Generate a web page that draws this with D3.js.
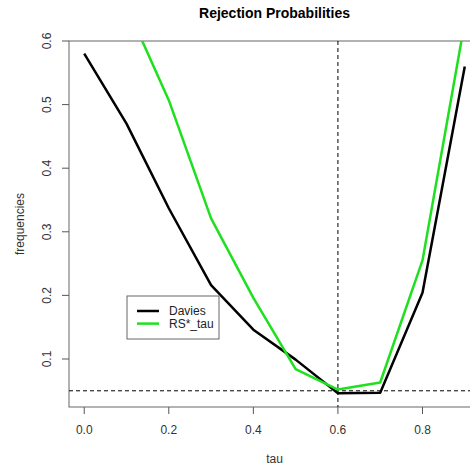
<!DOCTYPE html>
<html>
<head>
<meta charset="utf-8">
<script src="https://cdn.jsdelivr.net/npm/d3@7.9.0/dist/d3.min.js"></script>
<style>
  body { margin: 0; background: #fff; }
  svg { display: block; font-family: "Liberation Sans", Arial, sans-serif; }
</style>
</head>
<body>
<div id="chart"></div>
<script>
// values
const tau = [0.0, 0.1, 0.2, 0.3, 0.4, 0.5, 0.6, 0.7, 0.8, 0.9];
const davies = [0.580, 0.470, 0.337, 0.216, 0.146, 0.099, 0.046, 0.047, 0.204, 0.560];
const rsTau = [0.655, 0.655, 0.507, 0.321, 0.196, 0.084, 0.052, 0.063, 0.255, 0.630];
const rsStart = 0.1; // RS*_tau first point is above the window
const xTicks = [0.0, 0.2, 0.4, 0.6, 0.8];
const yTicks = [0.1, 0.2, 0.3, 0.4, 0.5, 0.6];
const refTau = 0.6;
const refLevel = 0.05;
const legendItems = [
  { label: 'Davies', color: '#000' },
  { label: 'RS*_tau', color: '#1fe01f' },
];

const width = 470, height = 468;
const box = { left: 69, right: 480, top: 41, bottom: 407 };

const svg = d3.select('#chart').append('svg')
  .attr('width', width)
  .attr('height', height);

const x = d3.scaleLinear().domain([-0.036, 0.936]).range([box.left, box.right]);
const y = d3.scaleLinear().domain([0.0245, 0.6]).range([box.bottom, box.top]);

svg.append('clipPath').attr('id', 'plot-clip')
  .append('rect')
  .attr('x', box.left).attr('y', box.top)
  .attr('width', box.right - box.left).attr('height', box.bottom - box.top);

// title
svg.append('text')
  .attr('x', (box.left + box.right) / 2)
  .attr('y', 18)
  .attr('text-anchor', 'middle')
  .style('font-size', '14px')
  .style('font-weight', 'bold')
  .text('Rejection Probabilities');

// x axis
const xAxis = svg.append('g').attr('transform', `translate(0,${box.bottom})`);
xAxis.selectAll('line').data(xTicks).join('line')
  .attr('x1', d => x(d)).attr('x2', d => x(d))
  .attr('y1', 0).attr('y2', 7)
  .attr('stroke', '#555');
xAxis.selectAll('text').data(xTicks).join('text')
  .attr('x', d => x(d)).attr('y', 27)
  .attr('text-anchor', 'middle')
  .style('font-size', '12px').attr('fill', '#333')
  .text(d => d3.format('.1f')(d));

// y axis
const yAxis = svg.append('g').attr('transform', `translate(${box.left},0)`);
yAxis.selectAll('line').data(yTicks).join('line')
  .attr('x1', 0).attr('x2', -7)
  .attr('y1', d => y(d)).attr('y2', d => y(d))
  .attr('stroke', '#555');
yAxis.selectAll('text').data(yTicks).join('text')
  .attr('transform', d => `translate(-18,${y(d)}) rotate(-90)`)
  .attr('text-anchor', 'middle')
  .style('font-size', '12px').attr('fill', '#333')
  .text(d => d3.format('.1f')(d));

// axis labels
svg.append('text')
  .attr('x', (box.left + box.right) / 2).attr('y', 463)
  .attr('text-anchor', 'middle')
  .style('font-size', '12px').attr('fill', '#333')
  .text('tau');
svg.append('text')
  .attr('transform', `translate(24,${(box.top + box.bottom) / 2}) rotate(-90)`)
  .attr('text-anchor', 'middle')
  .style('font-size', '12px').attr('fill', '#333')
  .text('frequencies');

// box
svg.append('rect')
  .attr('x', box.left).attr('y', box.top)
  .attr('width', box.right - box.left).attr('height', box.bottom - box.top)
  .attr('fill', 'none').attr('stroke', '#666');

const plot = svg.append('g').attr('clip-path', 'url(#plot-clip)');

// reference lines
plot.append('line')
  .attr('x1', x(refTau)).attr('x2', x(refTau))
  .attr('y1', box.top).attr('y2', box.bottom)
  .attr('stroke', '#000').attr('stroke-dasharray', '4,3');
plot.append('line')
  .attr('x1', box.left).attr('x2', box.right)
  .attr('y1', y(refLevel)).attr('y2', y(refLevel))
  .attr('stroke', '#000').attr('stroke-dasharray', '4,3');

const line = d3.line().x(d => x(d[0])).y(d => y(d[1]));

plot.append('path')
  .datum(d3.zip(tau, davies))
  .attr('d', line)
  .attr('fill', 'none').attr('stroke', legendItems[0].color)
  .attr('stroke-width', 2.5).attr('stroke-linejoin', 'round');

plot.append('path')
  .datum(d3.zip(tau, rsTau).filter(d => d[0] >= rsStart))
  .attr('d', line)
  .attr('fill', 'none').attr('stroke', legendItems[1].color)
  .attr('stroke-width', 2.5).attr('stroke-linejoin', 'round');

// legend
const legend = svg.append('g').attr('transform', 'translate(127,296)');
legend.append('rect')
  .attr('width', 92).attr('height', 43)
  .attr('fill', '#fff').attr('stroke', '#666');
const rows = legend.selectAll('g.item').data(legendItems).join('g')
  .attr('class', 'item')
  .attr('transform', (d, i) => `translate(0,${15 + i * 12.6})`);
rows.append('line')
  .attr('x1', 10).attr('x2', 32)
  .attr('stroke', d => d.color).attr('stroke-width', 2.5);
rows.append('text')
  .attr('x', 42).attr('y', 4)
  .style('font-size', '12px').attr('fill', '#222')
  .text(d => d.label);
</script>
</body>
</html>
